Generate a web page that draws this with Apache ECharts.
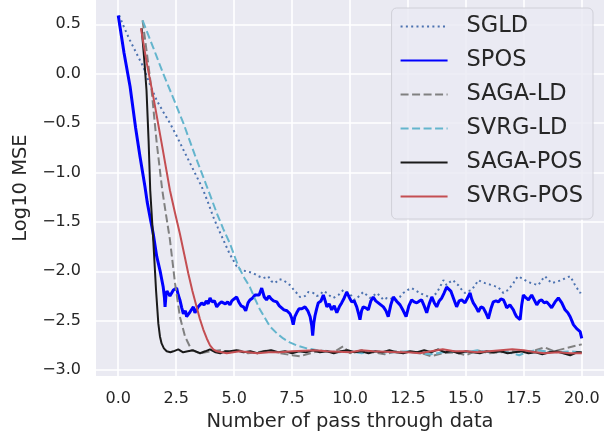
<!DOCTYPE html>
<html>
<head>
<meta charset="utf-8">
<script src="https://cdn.jsdelivr.net/npm/echarts@6/dist/echarts.min.js"></script>
<style>html,body{margin:0;padding:0;background:#fff;}#c{width:611px;height:439px;}</style>
</head>
<body>
<div id="c"></div>
<script>
const seriesNames = ['SGLD', 'SPOS', 'SAGA-LD', 'SVRG-LD', 'SAGA-POS', 'SVRG-POS'];
const xTicks = [0, 2.5, 5, 7.5, 10, 12.5, 15, 17.5, 20];
const yTicks = [-3, -2.5, -2, -1.5, -1, -0.5, 0, 0.5];

const sgld = [[0.04,0.59],[0.25,0.47],[0.5,0.34],[0.8,0.2],[1.08,0.07],[1.35,-0.1],[1.66,-0.27],[1.95,-0.39],[2.23,-0.5],[2.52,-0.63],[2.81,-0.77],[3.17,-0.94],[3.53,-1.11],[3.67,-1.18],[3.9,-1.32],[4.1,-1.45],[4.3,-1.56],[4.53,-1.68],[4.8,-1.82],[5.11,-1.95],[5.3,-1.99],[5.54,-2.0],[5.7,-2.01],[5.83,-2.02],[6.05,-2.05],[6.26,-2.07],[6.47,-2.05],[6.6,-2.10],[6.76,-2.12],[6.95,-2.08],[7.12,-2.09],[7.3,-2.12],[7.41,-2.14],[7.55,-2.18],[7.7,-2.22],[7.84,-2.26],[7.98,-2.26],[8.13,-2.24],[8.2,-2.21],[8.42,-2.22],[8.56,-2.25],[8.7,-2.24],[8.85,-2.20],[9.0,-2.22],[9.14,-2.25],[9.28,-2.27],[9.5,-2.24],[9.71,-2.19],[9.93,-2.22],[10.07,-2.25],[10.21,-2.29],[10.4,-2.25],[10.57,-2.21],[10.72,-2.24],[10.86,-2.27],[11.0,-2.25],[11.15,-2.22],[11.3,-2.25],[11.44,-2.29],[11.6,-2.27],[11.73,-2.27],[11.87,-2.29],[12.01,-2.29],[12.15,-2.26],[12.3,-2.22],[12.48,-2.19],[12.66,-2.17],[12.8,-2.19],[12.95,-2.21],[13.1,-2.23],[13.24,-2.24],[13.4,-2.26],[13.53,-2.27],[13.64,-2.24],[13.74,-2.22],[13.88,-2.16],[14.03,-2.09],[14.17,-2.14],[14.3,-2.11],[14.46,-2.09],[14.55,-2.12],[14.67,-2.14],[14.8,-2.18],[14.96,-2.22],[15.1,-2.20],[15.25,-2.19],[15.4,-2.14],[15.54,-2.09],[15.7,-2.11],[15.83,-2.12],[15.97,-2.13],[16.11,-2.14],[16.25,-2.15],[16.4,-2.16],[16.5,-2.19],[16.62,-2.22],[16.73,-2.20],[16.83,-2.19],[16.95,-2.15],[17.05,-2.12],[17.15,-2.08],[17.26,-2.05],[17.4,-2.07],[17.55,-2.09],[17.7,-2.11],[17.84,-2.12],[17.98,-2.13],[18.13,-2.14],[18.27,-2.09],[18.42,-2.05],[18.56,-2.09],[18.71,-2.12],[18.85,-2.11],[18.99,-2.10],[19.14,-2.09],[19.28,-2.07],[19.4,-2.06],[19.5,-2.05],[19.6,-2.09],[19.71,-2.14],[19.82,-2.18],[19.93,-2.22],[20.0,-2.19]];

const spos = [[0,0.59],[0.25,0.21],[0.51,-0.13],[0.75,-0.55],[0.94,-0.84],[1.15,-1.14],[1.25,-1.30],[1.37,-1.45],[1.51,-1.62],[1.66,-1.85],[1.8,-1.99],[1.94,-2.16],[1.99,-2.26],[2.02,-2.36],[2.06,-2.24],[2.1,-2.20],[2.16,-2.19],[2.23,-2.25],[2.3,-2.26],[2.38,-2.19],[2.45,-2.17],[2.52,-2.17],[2.59,-2.24],[2.66,-2.29],[2.74,-2.37],[2.81,-2.43],[2.9,-2.40],[2.95,-2.46],[3.02,-2.48],[3.1,-2.41],[3.17,-2.39],[3.24,-2.36],[3.31,-2.42],[3.38,-2.41],[3.45,-2.36],[3.53,-2.35],[3.6,-2.32],[3.7,-2.34],[3.8,-2.30],[3.88,-2.33],[3.96,-2.27],[4.05,-2.31],[4.15,-2.30],[4.25,-2.36],[4.35,-2.33],[4.45,-2.31],[4.53,-2.29],[4.62,-2.33],[4.72,-2.31],[4.82,-2.34],[4.9,-2.30],[5.0,-2.28],[5.11,-2.26],[5.2,-2.31],[5.3,-2.35],[5.4,-2.36],[5.5,-2.40],[5.6,-2.32],[5.68,-2.29],[5.8,-2.27],[5.9,-2.24],[5.97,-2.22],[6.08,-2.24],[6.19,-2.17],[6.3,-2.26],[6.4,-2.29],[6.5,-2.25],[6.6,-2.28],[6.7,-2.30],[6.84,-2.31],[6.95,-2.35],[7.05,-2.37],[7.15,-2.39],[7.28,-2.40],[7.41,-2.43],[7.48,-2.47],[7.55,-2.54],[7.62,-2.46],[7.7,-2.42],[7.8,-2.38],[7.92,-2.38],[8.06,-2.36],[8.18,-2.40],[8.28,-2.46],[8.35,-2.55],[8.39,-2.65],[8.44,-2.52],[8.49,-2.45],[8.56,-2.38],[8.63,-2.32],[8.75,-2.30],[8.85,-2.24],[8.93,-2.30],[9.0,-2.36],[9.1,-2.33],[9.21,-2.39],[9.32,-2.35],[9.43,-2.42],[9.54,-2.36],[9.64,-2.32],[9.75,-2.27],[9.86,-2.21],[9.96,-2.26],[10.07,-2.31],[10.18,-2.30],[10.29,-2.36],[10.36,-2.42],[10.43,-2.49],[10.5,-2.40],[10.57,-2.36],[10.68,-2.37],[10.79,-2.39],[10.9,-2.30],[11.0,-2.26],[11.11,-2.30],[11.22,-2.32],[11.33,-2.34],[11.44,-2.36],[11.55,-2.40],[11.65,-2.46],[11.76,-2.34],[11.87,-2.26],[12.0,-2.30],[12.16,-2.34],[12.3,-2.40],[12.42,-2.46],[12.54,-2.35],[12.66,-2.29],[12.77,-2.31],[12.88,-2.32],[13.0,-2.30],[13.09,-2.29],[13.2,-2.35],[13.31,-2.42],[13.42,-2.33],[13.53,-2.26],[13.64,-2.32],[13.74,-2.36],[13.85,-2.30],[13.96,-2.27],[14.06,-2.22],[14.17,-2.16],[14.24,-2.14],[14.35,-2.20],[14.46,-2.27],[14.6,-2.36],[14.71,-2.30],[14.82,-2.29],[14.96,-2.32],[15.07,-2.27],[15.18,-2.22],[15.25,-2.28],[15.32,-2.32],[15.43,-2.36],[15.54,-2.41],[15.65,-2.36],[15.75,-2.37],[15.86,-2.42],[15.97,-2.48],[16.08,-2.38],[16.18,-2.31],[16.3,-2.30],[16.4,-2.31],[16.51,-2.28],[16.62,-2.29],[16.7,-2.33],[16.76,-2.37],[16.9,-2.34],[17.05,-2.39],[17.12,-2.43],[17.19,-2.46],[17.27,-2.44],[17.34,-2.49],[17.41,-2.34],[17.48,-2.24],[17.6,-2.27],[17.7,-2.29],[17.84,-2.24],[17.95,-2.29],[18.06,-2.34],[18.17,-2.30],[18.27,-2.29],[18.38,-2.32],[18.49,-2.31],[18.6,-2.34],[18.7,-2.37],[18.85,-2.31],[18.99,-2.27],[19.07,-2.29],[19.14,-2.32],[19.28,-2.39],[19.4,-2.42],[19.5,-2.46],[19.57,-2.50],[19.64,-2.54],[19.71,-2.55],[19.78,-2.58],[19.86,-2.60],[19.93,-2.61],[20.0,-2.68]];

const sagaLd = [[1.05,0.54],[1.25,0.18],[1.44,-0.17],[1.66,-0.70],[1.9,-1.18],[2.05,-1.41],[2.23,-1.68],[2.45,-2.12],[2.66,-2.46],[2.88,-2.66],[3.17,-2.80],[3.53,-2.83],[3.96,-2.81],[4.4,-2.80],[4.8,-2.82],[5.2,-2.80],[5.6,-2.83],[6.0,-2.82],[6.5,-2.80],[7.0,-2.83],[7.5,-2.85],[7.84,-2.86],[8.3,-2.83],[8.8,-2.80],[9.3,-2.82],[9.7,-2.76],[10.0,-2.83],[10.5,-2.80],[11.0,-2.82],[11.5,-2.84],[12.0,-2.81],[12.5,-2.82],[13.0,-2.82],[13.5,-2.86],[14.0,-2.83],[14.5,-2.82],[15.0,-2.85],[15.5,-2.80],[16.0,-2.83],[16.5,-2.82],[17.0,-2.81],[17.5,-2.82],[18.0,-2.80],[18.4,-2.77],[18.8,-2.81],[19.3,-2.78],[19.8,-2.75],[20.0,-2.74]];

const svrgLd = [[1.05,0.54],[1.5,0.27],[1.94,0.0],[2.38,-0.25],[2.81,-0.5],[3.3,-0.82],[3.82,-1.14],[4.25,-1.41],[4.53,-1.57],[4.82,-1.72],[5.18,-1.95],[5.45,-2.07],[5.68,-2.16],[5.9,-2.28],[6.12,-2.39],[6.35,-2.48],[6.55,-2.56],[6.85,-2.63],[7.12,-2.68],[7.4,-2.72],[7.7,-2.75],[8.13,-2.78],[8.6,-2.80],[9.0,-2.81],[9.5,-2.82],[10.0,-2.81],[10.5,-2.83],[11.0,-2.81],[11.5,-2.82],[12.0,-2.82],[12.5,-2.81],[13.0,-2.83],[13.5,-2.84],[14.0,-2.82],[14.5,-2.81],[15.0,-2.82],[15.5,-2.80],[16.0,-2.82],[16.5,-2.81],[17.0,-2.83],[17.3,-2.85],[17.6,-2.82],[18.0,-2.80],[18.5,-2.81],[19.0,-2.82],[19.5,-2.81],[20.0,-2.82]];

const sagaPos = [[1.01,0.46],[1.12,0.15],[1.22,-0.17],[1.31,-0.68],[1.38,-1.18],[1.51,-1.68],[1.63,-2.19],[1.73,-2.53],[1.8,-2.66],[1.87,-2.73],[1.97,-2.78],[2.09,-2.81],[2.25,-2.82],[2.38,-2.81],[2.59,-2.79],[2.8,-2.82],[3.0,-2.81],[3.24,-2.80],[3.53,-2.83],[3.75,-2.81],[3.96,-2.79],[4.2,-2.82],[4.4,-2.83],[4.6,-2.81],[4.82,-2.81],[5.1,-2.80],[5.4,-2.82],[5.7,-2.81],[6.0,-2.83],[6.3,-2.81],[6.6,-2.80],[6.9,-2.82],[7.2,-2.81],[7.5,-2.83],[7.8,-2.81],[8.1,-2.82],[8.4,-2.80],[8.7,-2.82],[9.0,-2.81],[9.3,-2.83],[9.6,-2.81],[9.9,-2.80],[10.2,-2.82],[10.5,-2.81],[10.8,-2.83],[11.1,-2.81],[11.4,-2.82],[11.7,-2.80],[12.0,-2.82],[12.3,-2.83],[12.6,-2.81],[12.9,-2.82],[13.2,-2.80],[13.5,-2.82],[13.8,-2.79],[14.1,-2.82],[14.4,-2.81],[14.7,-2.83],[15.0,-2.81],[15.3,-2.82],[15.6,-2.83],[15.9,-2.81],[16.2,-2.82],[16.5,-2.81],[16.8,-2.83],[17.1,-2.82],[17.4,-2.81],[17.7,-2.83],[18.0,-2.82],[18.3,-2.84],[18.6,-2.82],[18.9,-2.81],[19.2,-2.83],[19.5,-2.85],[19.8,-2.82],[20.0,-2.82]];

const svrgPos = [[0.98,0.46],[1.22,0.12],[1.51,-0.23],[1.87,-0.70],[2.23,-1.18],[2.45,-1.41],[2.66,-1.62],[2.85,-1.83],[3.02,-2.02],[3.2,-2.2],[3.38,-2.36],[3.52,-2.48],[3.67,-2.59],[3.82,-2.68],[3.96,-2.75],[4.1,-2.79],[4.25,-2.81],[4.68,-2.83],[5.25,-2.81],[6.0,-2.83],[6.5,-2.82],[7.0,-2.82],[7.5,-2.81],[8.5,-2.80],[9.0,-2.81],[10.0,-2.82],[10.5,-2.80],[11.0,-2.81],[12.0,-2.82],[12.5,-2.82],[13.0,-2.83],[13.5,-2.81],[14.0,-2.79],[14.5,-2.81],[15.0,-2.81],[15.5,-2.82],[16.0,-2.81],[16.5,-2.80],[17.0,-2.79],[17.5,-2.80],[18.0,-2.82],[18.4,-2.83],[19.0,-2.82],[19.5,-2.83],[20.0,-2.83]];

const FONT = 'DejaVu Sans';
const TXT = '#262626';
const styles = [
  {color: '#4c72b0', type: [2, 3.3], width: 2},
  {color: '#0000ff', type: 'solid', width: 3},
  {color: '#808080', type: [8, 3.5], width: 2},
  {color: '#64b5cd', type: [8, 3.5], width: 2},
  {color: '#1a1a1a', type: 'solid', width: 2},
  {color: '#c44e52', type: 'solid', width: 2}
];
const datasets = [sgld, spos, sagaLd, svrgLd, sagaPos, svrgPos];

const chart = echarts.init(document.getElementById('c'), null, {renderer: 'canvas'});
chart.setOption({
  animation: false,
  backgroundColor: '#ffffff',
  grid: {left: 96, right: 7, top: 0, bottom: 63, show: true, backgroundColor: '#eaeaf2', borderWidth: 0},
  xAxis: {
    type: 'value', min: -0.96, max: 20.96,
    name: 'Number of pass through data', nameLocation: 'middle', nameGap: 34,
    nameTextStyle: {fontFamily: FONT, fontSize: 19.5, color: TXT},
    axisLine: {show: false},
    axisTick: {show: false, customValues: xTicks},
    axisLabel: {customValues: xTicks, fontFamily: FONT, fontSize: 16, color: TXT, margin: 15,
      formatter: v => v.toFixed(1)},
    splitLine: {show: true, lineStyle: {color: '#ffffff', width: 1.6}}
  },
  yAxis: {
    type: 'value', min: -3.06, max: 0.746,
    name: 'Log10 MSE', nameLocation: 'middle', nameGap: 57,
    nameTextStyle: {fontFamily: FONT, fontSize: 19.5, color: TXT},
    axisLine: {show: false},
    axisTick: {show: false, customValues: yTicks},
    axisLabel: {customValues: yTicks, fontFamily: FONT, fontSize: 16, color: TXT, margin: 15,
      formatter: v => (v < 0 ? '\u2212' : '') + Math.abs(v).toFixed(1)},
    splitLine: {show: true, lineStyle: {color: '#ffffff', width: 1.6}}
  },
  legend: {
    orient: 'vertical', right: 18, top: 8,
    padding: [7, 10, 11, 8],
    itemWidth: 47, itemHeight: 14, itemGap: 11,
    itemStyle: {opacity: 0, color: 'rgba(0,0,0,0)', borderWidth: 0},
    backgroundColor: 'rgba(234,234,242,0.8)', borderColor: '#d0d0d8', borderWidth: 1, borderRadius: 5,
    textStyle: {fontFamily: FONT, fontSize: 22.5, color: TXT, padding: [0, 0, 0, 14]},
    data: seriesNames
  },
  series: seriesNames.map((n, i) => ({
    name: n, type: 'line', data: datasets[i], showSymbol: false, symbol: 'none',
    lineStyle: {color: styles[i].color, type: styles[i].type, width: styles[i].width},
    itemStyle: {color: styles[i].color}
  }))
});
</script>
</body>
</html>
